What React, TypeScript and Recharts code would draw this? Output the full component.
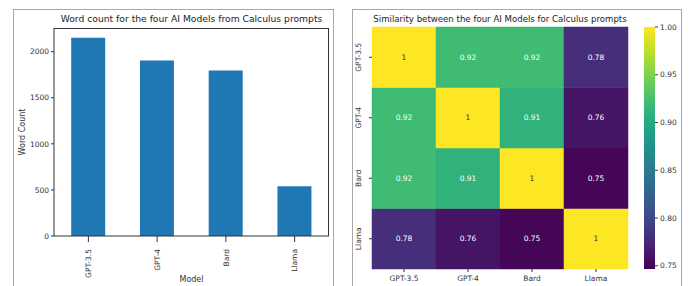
import { BarChart, Bar, XAxis, YAxis, Cell, LabelList } from 'recharts';

const models = ['GPT-3.5', 'GPT-4', 'Bard', 'Llama'];
const wordCounts = [2150, 1905, 1795, 540];
const wordTicks = [0, 500, 1000, 1500, 2000];

// similarity matrix, one array per row
const simGpt35 = [1, 0.92, 0.92, 0.78];
const simGpt4 = [0.92, 1, 0.91, 0.76];
const simBard = [0.92, 0.91, 1, 0.75];
const simLlama = [0.78, 0.76, 0.75, 1];
const simRows = [simGpt35, simGpt4, simBard, simLlama];
const colorTicks = [0.75, 0.8, 0.85, 0.9, 0.95, 1.0];
const colorMin = 0.7466;
const colorMax = 1;

const viridis = ['#440154', '#482475', '#414487', '#355f8d', '#2a788e', '#21918c', '#22a884', '#44bf70', '#7ad151', '#bddf26', '#fde725'];

const hex = (c: string) => [1, 3, 5].map((i) => parseInt(c.slice(i, i + 2), 16));
function viridisAt(v: number) {
  const t = Math.max(0, Math.min(1, (v - colorMin) / (colorMax - colorMin))) * 10;
  const i = Math.min(9, Math.floor(t));
  const f = t - i;
  const a = hex(viridis[i]);
  const b = hex(viridis[i + 1]);
  const m = a.map((x, k) => Math.round(x + (b[k] - x) * f));
  return `rgb(${m[0]},${m[1]},${m[2]})`;
}

const wordData = models.map((m, i) => ({ model: m, count: wordCounts[i] }));
// stacked from bottom: Llama row first, GPT-3.5 row on top
const heatData = models.map((m) => {
  const row: any = { model: m };
  simRows.forEach((_, r) => { row['r' + r] = 1; });
  return row;
});
const stackOrder = [3, 2, 1, 0];

const font = "'DejaVu Sans', sans-serif";
const ink = '#333';
const tickStyle = { fontSize: 7.5, fill: ink, fontFamily: font };

const VertTick = ({ x, y, payload }: any) => (
  <text transform={`translate(${x},${y + 5}) rotate(-90)`} textAnchor="end" dy="0.35em" style={tickStyle}>{payload.value}</text>
);

const heatNames: Record<string, string> = { '0.5': 'Llama', '1.5': 'Bard', '2.5': 'GPT-4', '3.5': 'GPT-3.5' };
const HeatYTick = ({ x, y, payload }: any) => (
  <text transform={`translate(${x - 6},${y}) rotate(-90)`} textAnchor="middle" style={tickStyle}>{heatNames[String(payload.value)]}</text>
);

const cellLabel = (r: number) => (props: any) => {
  const { x, y, width, height, index } = props;
  const v = simRows[r][index];
  return (
    <text x={x + width / 2} y={y + height / 2} dy="0.35em" textAnchor="middle"
      style={{ fontSize: 7.5, fontFamily: font, fill: v > 0.97 ? '#333' : '#fff' }}>{String(v)}</text>
  );
};

export default function App() {
  return (
    <div style={{ position: 'fixed', left: 0, top: 0, width: 691, height: 286, background: '#fff', overflow: 'hidden', fontFamily: font }}>
      <div style={panel(13, 321)} />
      <div style={panel(352, 330)} />

      <div style={{ ...title, left: 54, width: 275, fontSize: 9.2 }}>Word count for the four AI Models from Calculus prompts</div>
      <div style={{ position: 'absolute', left: 0, top: 0 }}>
        <BarChart width={335} height={286} data={wordData} margin={{ top: 28, right: 6, left: 24, bottom: 0 }} barCategoryGap="25%">
          <XAxis dataKey="model" height={50} tick={<VertTick />} tickLine={{ stroke: ink }} axisLine={{ stroke: ink }}
            label={{ value: 'Model', position: 'insideBottom', offset: 4, style: { fontSize: 8, fill: ink, fontFamily: font } }} />
          <YAxis width={30} domain={[0, 2257]} ticks={wordTicks} tick={tickStyle} tickLine={{ stroke: ink }} tickSize={3} axisLine={{ stroke: ink }}
            label={{ value: 'Word Count', angle: -90, position: 'insideLeft', offset: -2, style: { fontSize: 8, fill: ink, fontFamily: font, textAnchor: 'middle' } }} />
          <Bar dataKey="count" fill="#1f77b4" isAnimationActive={false} />
        </BarChart>
      </div>
      {/* top and right spines of the bar plot */}
      <div style={{ position: 'absolute', left: 54, top: 28, width: 275, height: 208, borderTop: `1px solid ${ink}`, borderRight: `1px solid ${ink}`, boxSizing: 'border-box', pointerEvents: 'none' }} />

      <div style={{ ...title, left: 372, width: 256 }}>Similarity between the four AI Models for Calculus prompts</div>
      <div style={{ position: 'absolute', left: 345, top: 0 }}>
        <BarChart width={290} height={286} data={heatData} margin={{ top: 27, right: 7, left: 7, bottom: 0 }} barCategoryGap={0}>
          <XAxis dataKey="model" height={17} tick={tickStyle} tickSize={3} tickMargin={4} tickLine={{ stroke: ink }} axisLine={false} />
          <YAxis type="number" width={20} domain={[0, 4]} ticks={[0.5, 1.5, 2.5, 3.5]} tick={<HeatYTick />} tickSize={3} tickLine={{ stroke: ink }} axisLine={false} />
          {stackOrder.map((r) => (
            <Bar key={r} dataKey={'r' + r} stackId="h" isAnimationActive={false}>
              {simRows[r].map((v, c) => <Cell key={c} fill={viridisAt(v)} stroke={viridisAt(v)} strokeWidth={0.5} />)}
              <LabelList content={cellLabel(r)} />
            </Bar>
          ))}
        </BarChart>
      </div>

      <div style={{ position: 'absolute', left: 635, top: 0 }}>
        <BarChart width={56} height={286} data={[{ name: 'c', range: [colorMin, colorMax] }]} margin={{ top: 27, right: 0, left: 9, bottom: 17 }} barCategoryGap={0}>
          <defs>
            <linearGradient id="viridisGrad" x1="0" y1="1" x2="0" y2="0">
              {viridis.map((c, i) => <stop key={i} offset={`${i * 10}%`} stopColor={c} />)}
            </linearGradient>
          </defs>
          <XAxis dataKey="name" hide />
          <YAxis orientation="right" width={36} type="number" domain={[colorMin, colorMax]} ticks={colorTicks} allowDataOverflow
            tickFormatter={(v: number) => v.toFixed(2)} tick={tickStyle} tickSize={3} tickLine={{ stroke: ink }} axisLine={false} />
          <Bar dataKey="range" fill="url(#viridisGrad)" isAnimationActive={false} />
        </BarChart>
      </div>
    </div>
  );
}

const panel = (left: number, width: number): React.CSSProperties => ({
  position: 'absolute',
  left,
  top: 9,
  width,
  height: 300,
  border: '1px solid #a8a8a8',
  boxSizing: 'border-box',
});

const title: React.CSSProperties = {
  position: 'absolute',
  top: 13,
  fontSize: 8.6,
  color: '#222',
  textAlign: 'center',
  whiteSpace: 'nowrap',
  lineHeight: '12px',
};
